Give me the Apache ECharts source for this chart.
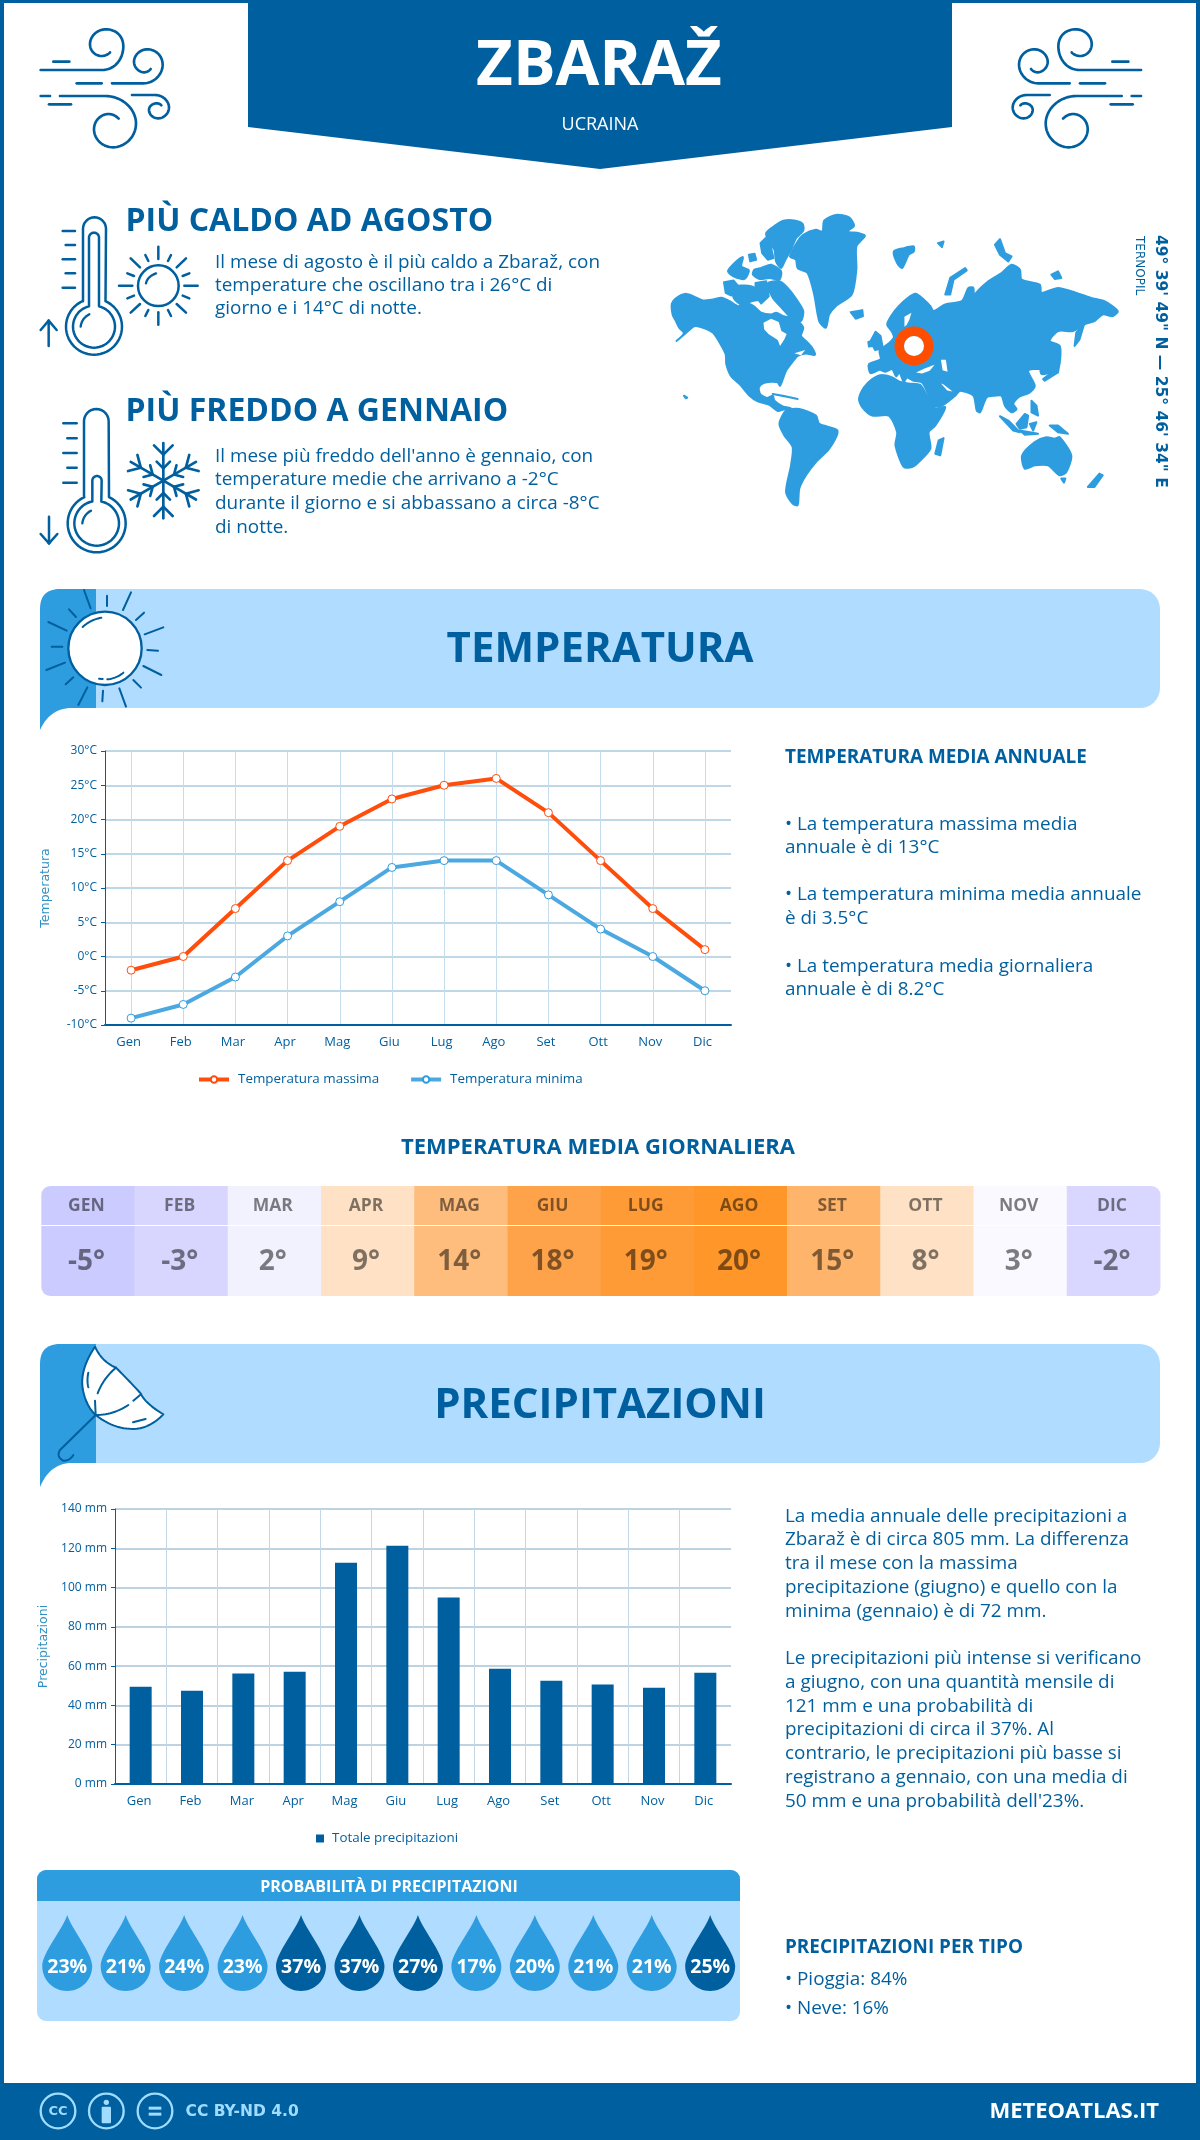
<!DOCTYPE html>
<html><head><meta charset="utf-8">
<style>html,body{margin:0;padding:0;background:#fff}#c{width:1200px;height:2140px}</style>
<script src="https://cdn.jsdelivr.net/npm/echarts@6/dist/echarts.min.js"></script>
</head><body><div id="c"></div>
<script>
const months = ['Gen','Feb','Mar','Apr','Mag','Giu','Lug','Ago','Set','Ott','Nov','Dic'];
const monthsUpper = ['GEN','FEB','MAR','APR','MAG','GIU','LUG','AGO','SET','OTT','NOV','DIC'];
const tempMax = [-2,0,7,14,19,23,25,26,21,14,7,1];
const tempMin = [-9,-7,-3,3,8,13,14,14,9,4,0,-5];
const tempDaily = [-5,-3,2,9,14,18,19,20,15,8,3,-2];
const dailyColors = ['#cccbff','#d8d6ff','#f2f2ff','#ffe2c5','#ffbd7d','#ffa34a','#ff9b36','#ff9629','#ffb46b','#ffe2c5','#f9f9ff','#d9d7ff'];
const precipitation = [49.5,47.5,56.2,57.2,112.7,121.3,94.9,58.7,52.6,50.6,49,56.7];
const rainChance = [23,21,24,23,37,37,27,17,20,21,21,25];

const hotText = ['Il mese di agosto è il più caldo a Zbaraž, con','temperature che oscillano tra i 26°C di','giorno e i 14°C di notte.'];
const coldText = ["Il mese più freddo dell'anno è gennaio, con",'temperature medie che arrivano a -2°C','durante il giorno e si abbassano a circa -8°C','di notte.'];
const annualText = [['• La temperatura massima media','annuale è di 13°C'],['• La temperatura minima media annuale','è di 3.5°C'],['• La temperatura media giornaliera','annuale è di 8.2°C']];
const precipText1 = ['La media annuale delle precipitazioni a','Zbaraž è di circa 805 mm. La differenza','tra il mese con la massima','precipitazione (giugno) e quello con la','minima (gennaio) è di 72 mm.'];
const precipText2 = ['Le precipitazioni più intense si verificano','a giugno, con una quantità mensile di','121 mm e una probabilità di','precipitazioni di circa il 37%. Al','contrario, le precipitazioni più basse si','registrano a gennaio, con una media di',"50 mm e una probabilità dell'23%."];

const DARK='#005f9e', MID='#2e9ddf', LIGHT='#b0dcff', FONT='"Open Sans"';
const BODY=18.9;

function txt(s,x,y,size,opt){opt=opt||{};
  return {type:'text',x:x,y:y,rotation:opt.rot||0,z:opt.z||5,style:{text:s,fill:opt.fill||DARK,
    font:(opt.weight||'normal')+' '+size+'px '+(opt.family||FONT),
    align:opt.align||'left',textAlign:opt.align||'left',verticalAlign:'middle',textVerticalAlign:'middle'}};
}
function lines(arr,x,ys,size){return arr.map((s,i)=>txt(s,x,ys[i],size));}
function samplePath(d){
  const t=d.match(/[MLHVQCZ]|-?[\d.]+/g);let i=0,cx=0,cy=0,pts=[],closed=false,cmd='';
  const n=()=>parseFloat(t[i++]);
  while(i<t.length){
    if(/[A-Z]/.test(t[i]))cmd=t[i++];
    if(cmd==='Z'){closed=true;continue;}
    if(cmd==='M'||cmd==='L'){cx=n();cy=n();pts.push([cx,cy]);}
    else if(cmd==='H'){cx=n();pts.push([cx,cy]);}
    else if(cmd==='V'){cy=n();pts.push([cx,cy]);}
    else if(cmd==='Q'){const a=n(),b=n(),x=n(),y=n();for(let k=1;k<=14;k++){const u=k/14,v=1-u;pts.push([v*v*cx+2*u*v*a+u*u*x,v*v*cy+2*u*v*b+u*u*y]);}cx=x;cy=y;}
    else if(cmd==='C'){const a=n(),b=n(),e=n(),f=n(),x=n(),y=n();for(let k=1;k<=18;k++){const u=k/18,v=1-u;pts.push([v*v*v*cx+3*u*v*v*a+3*u*u*v*e+u*u*u*x,v*v*v*cy+3*u*v*v*b+3*u*u*v*f+u*u*u*y]);}cx=x;cy=y;}
  }
  return {pts,closed};
}
function pth(d,o){o=o||{};const r=samplePath(d);
  return {type:r.closed?'polygon':'polyline',z:o.z||4,shape:{points:r.pts},
    style:{fill:o.fill||(r.closed?'#fff':null),stroke:o.stroke===undefined?DARK:o.stroke,lineWidth:o.w||7,lineCap:'round',lineJoin:'round'}};
}
function grp(x,y,sx,sy,children){return {type:'group',x:x,y:y,scaleX:sx,scaleY:sy,children:children};}
function tube(xl,xr,top,cx,cy,r){
  const tr=(xr-xl)/2,a=Math.asin(tr/r),pts=[];
  pts.push([xl,cy-r*Math.cos(a)]);
  for(let k=0;k<=16;k++){const t=Math.PI+Math.PI*k/16;pts.push([(xl+xr)/2+tr*Math.cos(t),top+tr+tr*Math.sin(t)]);}
  for(let k=0;k<=48;k++){const t=-Math.PI/2+a+(2*Math.PI-2*a)*k/48;pts.push([cx+r*Math.cos(t),cy+r*Math.sin(t)]);}
  return {type:'polygon',z:4,shape:{points:pts},style:{fill:null,stroke:DARK,lineWidth:7.5,lineJoin:'round'}};
}
function segs(list,w,z){return list.map(p=>({type:'line',z:z||4,shape:{x1:p[0],y1:p[1],x2:p[2],y2:p[3]},style:{stroke:DARK,lineWidth:w,lineCap:'round'}}));}

function windIcon(){return [
  pth('M62,180 H245 C290,180 310,140 310,110 C310,75 285,58 258,58 C230,58 210,80 210,102 C210,125 228,138 245,138 C258,138 268,130 270,127',{w:8}),
  pth('M276,220 H370 C405,220 428,190 428,165 C428,135 405,118 382,118 C358,118 342,138 342,155 C342,175 360,187 372,187 C382,187 390,180 392,177',{w:8}),
  pth('M120,258 H255 C310,258 348,300 348,340 C348,385 310,412 280,412 C245,412 222,385 222,358 C222,330 245,312 265,312 C280,312 290,320 296,326',{w:8}),
  pth('M336,255 H405 C430,255 447,275 447,292 C447,312 430,325 415,325 C398,325 387,312 387,300 C387,287 400,280 410,280 C418,280 422,284 424,286',{w:8})
].concat(segs([[100,155,148,155],[170,220,245,220],[62,258,90,258],[87,283,153,283]],8));}

function sunRays(list,w){return segs(list,w);}

const hotThermo=[tube(189,258,82,222,410,84),tube(207,237,128,222,410,63),pth('M182,410 Q185,385 208,373',{w:7})]
 .concat(segs([[128,123,165,123],[137,165,165,165],[128,208,165,208],[137,250,165,250],[128,293,165,293],[86,468,86,392],[62,420,86,392],[110,420,86,392]],7.5))
 .concat([{type:'circle',z:4,shape:{cx:415,cy:287,r:61},style:{fill:null,stroke:DARK,lineWidth:7.5}},pth('M378,280 Q382,260 408,250',{w:7})])
 .concat(sunRays([[415,170,415,207],[415,367,415,404],[297,287,337,287],[493,287,533,287],[332,205,360,232],[498,205,470,232],[332,368,360,342],[498,368,470,342],[376,195,385,213],[453,195,444,213],[376,378,385,360],[453,378,444,360],[322,250,342,258],[508,250,488,258],[322,325,342,317],[508,325,488,317]],7.5));

const flakeArms=[0,1,2,3,4,5].map(k=>({type:'group',x:430,y:872,rotation:k*Math.PI/3,children:segs([[0,0,0,-113],[-28,-106,0,-78],[28,-106,0,-78],[-20,-57,0,-37],[20,-57,0,-37]],8)}));
const coldThermo=[tube(192,266,657,230,1000,87),tube(217,245,858,230,1000,67),pth('M187,1000 Q190,975 213,962',{w:7})]
 .concat(segs([[130,700,170,700],[142,745,170,745],[130,789,170,789],[142,833,170,833],[130,878,170,878],[87,980,87,1060],[62,1032,87,1060],[112,1032,87,1060]],7.5))
 .concat(flakeArms);

function banner(top,bottom,tail,title,cy){return [
  {type:'rect',z:1,shape:{x:70,y:top,width:1090,height:bottom-top,r:20},style:{fill:LIGHT}},
  pth('M40,'+tail+' L40,'+(top+20)+' Q40,'+top+' 60,'+top+' L96,'+top+' L96,'+bottom+' L72,'+bottom+' Q50,'+bottom+' 40,'+tail+' Z',{fill:MID,stroke:null,z:2}),
  txt(title,600,cy,42,{weight:'bold',align:'center'})
];}
const sunBanner=[{type:'circle',z:4,shape:{cx:225,cy:205,r:110},style:{fill:'#fff',stroke:DARK,lineWidth:7}},
  pth('M158,141 Q180,120 214,113',{w:6}),pth('M232,298 Q260,295 280,278',{w:6}),pth('M207,296 L218,297',{w:6})]
 .concat(segs([[162,30,182,85],[231,47,231,78],[303,37,279,90],[342,98,318,120],[400,142,344,163],[352,210,384,212],[340,258,394,285],[310,300,333,323],[268,325,288,380],[219,332,217,364],[172,322,145,375],[130,292,107,313],[105,248,49,270],[97,200,65,200],[110,152,55,126],[138,111,117,88]],6));
const umbrella=[pth('M195,35 Q145,110 160,170 Q170,215 197,240 Q260,290 330,280 Q370,270 400,238 Q345,205 332,175 Q290,130 258,98 Q215,80 195,35 Z',{w:6}),
  pth('M197,240 L90,345 Q78,365 100,377 Q118,378 130,360',{w:6}),pth('M197,240 Q250,240 295,210',{w:6}),pth('M258,98 Q220,130 203,175',{w:6}),
  pth('M175,113 Q170,135 175,157',{w:6})].concat(segs([[310,197,333,178],[195,197,197,240],[309,262,347,252]],6));

// decorative world map outlines
const land=[
 [[36,312],[48,296],[75,283],[100,290],[130,303],[160,300],[185,295],[210,305],[235,320],[265,313],[285,322],[305,340],[335,345],[350,340],[372,350],[395,355],[415,365],[432,385],[425,410],[440,425],[458,445],[467,467],[440,463],[415,470],[398,490],[380,515],[362,560],[355,550],[335,548],[312,552],[298,565],[302,585],[322,597],[340,590],[345,605],[370,622],[395,628],[372,632],[355,636],[330,618],[295,607],[270,590],[240,555],[215,532],[200,495],[198,465],[180,430],[160,400],[130,385],[105,380],[85,395],[50,425],[72,402],[58,385],[48,365],[38,345]],
 [[320,100],[350,75],[375,62],[405,62],[430,72],[432,92],[410,115],[395,150],[378,180],[365,205],[350,185],[345,150],[330,130]],
 [[303,130],[318,115],[335,145],[342,175],[325,180],[308,160]],
 [[365,215],[360,240],[330,235],[300,238],[280,225],[285,210],[305,205],[335,195]],
 [[325,252],[360,245],[385,265],[412,300],[432,335],[425,365],[405,362],[385,345],[362,320],[340,295]],
 [[222,262],[255,258],[285,265],[305,298],[278,305],[245,315],[222,295]],
 [[193,248],[222,243],[235,258],[215,288],[198,280]],
 [[205,215],[225,190],[250,172],[245,200],[268,212],[255,238],[225,232]],
 [[288,250],[320,245],[328,290],[305,312],[288,290]],
 [[268,165],[285,162],[290,180],[272,185]],
 [[410,180],[392,170],[415,125],[432,105],[470,90],[490,95],[495,62],[530,45],[570,52],[585,78],[565,95],[600,100],[618,108],[592,140],[592,210],[578,285],[530,320],[510,345],[500,385],[480,365],[465,285],[445,220],[415,205]],
 [[575,338],[610,332],[612,350],[590,358]],
 [[705,155],[735,145],[765,140],[765,155],[750,165],[730,205],[715,190]],
 [[838,130],[855,125],[850,142]],
 [[860,285],[875,235],[920,205],[925,212],[885,240],[875,285]],
 [[1010,135],[1025,118],[1040,160],[1060,170],[1050,185],[1025,165]],
 [[1180,225],[1200,215],[1210,235],[1190,238]],
 [[685,375],[700,345],[720,320],[745,297],[770,283],[795,300],[815,320],[825,335],[860,315],[910,305],[930,265],[945,265],[945,330],[950,285],[990,245],[1030,220],[1060,195],[1085,210],[1090,240],[1145,255],[1150,280],[1200,265],[1255,280],[1300,295],[1340,305],[1380,335],[1365,350],[1335,345],[1310,365],[1280,375],[1245,395],[1200,395],[1175,425],[1205,440],[1205,490],[1190,515],[1150,525],[1145,510],[1110,515],[1130,560],[1115,580],[1080,595],[1065,615],[1075,630],[1060,640],[1040,620],[1030,590],[1010,590],[985,595],[965,640],[955,635],[945,590],[905,575],[890,590],[850,620],[825,620],[792,552],[765,545],[745,535],[735,548],[722,520],[712,532],[700,510],[680,518],[662,512],[635,522],[630,495],[665,480],[662,455],[690,432],[705,415],[700,398]],
 [[600,600],[615,565],[640,540],[665,528],[700,535],[722,548],[750,553],[785,558],[815,610],[830,628],[860,625],[830,680],[810,700],[815,750],[780,790],[760,805],[735,805],[710,740],[715,700],[690,650],[640,650],[610,625]],
 [[840,725],[855,718],[845,770],[830,765]],
 [[360,675],[380,635],[420,630],[470,650],[480,675],[535,695],[510,750],[470,790],[440,830],[420,870],[415,920],[400,915],[380,880],[395,800],[400,745],[375,710]],
 [[1092,770],[1130,730],[1165,715],[1190,720],[1205,715],[1240,770],[1225,820],[1205,830],[1170,800],[1130,800],[1100,810]],
 [[1290,865],[1325,825],[1335,830],[1310,865]],[[1210,840],[1222,840],[1218,852]],
 [[1025,652],[1050,665],[1085,700],[1065,695]],[[1085,695],[1140,705],[1100,708]],[[1075,675],[1100,645],[1110,650],[1105,685],[1085,690]],
 [[1175,680],[1200,680],[1230,705],[1200,700]],[[1120,605],[1135,620],[1140,650],[1120,640]],[[1115,675],[1135,670],[1125,695]],
 [[1155,540],[1195,510],[1195,485],[1205,490],[1200,520],[1160,545]],[[1250,440],[1255,400],[1280,370],[1265,420]],
 [[340,585],[390,595],[415,600],[370,590]],
 [[635,425],[650,397],[665,410],[672,448],[648,452]],[[628,428],[640,425],[642,440],[630,442]],
 [[72,590],[82,596],[78,598]]
];
const waters=[
 [[312,370],[335,358],[358,368],[366,395],[382,404],[375,420],[362,440],[355,422],[328,405],[314,390]],
 [[737,352],[758,340],[752,360],[744,376],[737,382]],
 [[772,520],[800,507],[828,497],[813,515],[790,523]],
 [[847,482],[862,482],[867,518],[852,513]],
 [[847,553],[855,556],[882,577],[866,574]],
 [[405,462],[438,452],[425,468]]
];
const mapEls=land.map(p=>({type:'polygon',z:3,shape:{points:p,smooth:p.length>6?0.25:0},style:{fill:MID,stroke:MID,lineWidth:6,lineJoin:'round'}}))
 .concat(waters.map(p=>({type:'polygon',z:3,shape:{points:p},style:{fill:'#fff'}})));

const ccIcons=[
 {type:'circle',shape:{cx:114,cy:123,r:52},style:{fill:null,stroke:'#a0dcff',lineWidth:7}},
 {type:'circle',shape:{cx:259,cy:123,r:52},style:{fill:null,stroke:'#a0dcff',lineWidth:7}},
 {type:'circle',shape:{cx:405,cy:123,r:52},style:{fill:null,stroke:'#a0dcff',lineWidth:7}},
 {type:'circle',shape:{cx:259,cy:97,r:8},style:{fill:'#a0dcff'}},
 {type:'rect',shape:{x:245,y:110,width:28,height:50,r:3},style:{fill:'#a0dcff'}},
 {type:'rect',shape:{x:386,y:110,width:38,height:9},style:{fill:'#a0dcff'}},
 {type:'rect',shape:{x:386,y:128,width:38,height:9},style:{fill:'#a0dcff'}}
].map(e=>Object.assign(e,{z:6}));

const graphics=[
 {type:'rect',z:1,shape:{x:0,y:0,width:4,height:2140},style:{fill:DARK}},
 {type:'rect',z:1,shape:{x:1196,y:0,width:4,height:2140},style:{fill:DARK}},
 {type:'rect',z:1,shape:{x:0,y:0,width:1200,height:3},style:{fill:DARK}},
 {type:'polygon',z:2,shape:{points:[[248,0],[952,0],[952,127],[600,169],[248,127]]},style:{fill:DARK}},
 txt('ZBARAŽ',599,67,63.5,{weight:'bold',align:'center',fill:'#fff'}),
 txt('UCRAINA',600,125,18,{align:'center',fill:'#fff'}),
 grp(20,10,1/3,1/3,windIcon()),
 grp(1161.7,10,-1/3,1/3,windIcon()),
 grp(20,190,1/3,1/3,hotThermo),
 grp(20,190,1/3,1/3,coldThermo),
 txt('PIÙ CALDO AD AGOSTO',125.5,222,32,{weight:'bold'}),
 txt('PIÙ FREDDO A GENNAIO',125.5,412,32,{weight:'bold'}),
 grp(660,200,1/3.015,1/3.015,mapEls),
 {type:'ring',z:5,shape:{cx:914,cy:346,r:19.6,r0:10},style:{fill:'#ff4e00'}},
 {type:'circle',z:5,shape:{cx:914,cy:346,r:10},style:{fill:'#fff'}},
 txt('49° 39\' 49" N — 25° 46\' 34" E',1160,235,15.5,{weight:'bold',rot:-Math.PI/2,family:'"DejaVu Sans"'}),
 txt('TERNOPIL',1139,236,12,{rot:-Math.PI/2,family:'"DejaVu Sans"'})
]
.concat(lines(hotText,215,[263,286,309],BODY),lines(coldText,215,[457,480,504,528],BODY))
.concat(banner(589,708,730,'TEMPERATURA',650))
.concat([grp(30,580,1/3,1/3,sunBanner)])
.concat([txt('TEMPERATURA MEDIA ANNUALE',785,758,BODY,{weight:'bold'})])
.concat(lines(annualText[0],785,[825,848],BODY),lines(annualText[1],785,[895,919],BODY),lines(annualText[2],785,[967,990],BODY))
.concat([txt('TEMPERATURA MEDIA GIORNALIERA',598,1148,22,{weight:'bold',align:'center'})])
.concat(banner(1344,1463,1487,'PRECIPITAZIONI',1406))
.concat([grp(30,1335,1/3,1/3,umbrella)])
.concat(lines(precipText1,785,[1517,1540,1564,1588,1612],BODY),lines(precipText2,785,[1659,1683,1707,1730,1754,1778,1802],BODY))
.concat([
 {type:'rect',z:1,shape:{x:37,y:1870,width:703,height:151,r:9},style:{fill:LIGHT}},
 {type:'rect',z:1,shape:{x:37,y:1870,width:703,height:31,r:[9,9,0,0]},style:{fill:MID}},
 txt('PROBABILITÀ DI PRECIPITAZIONI',389,1887,16,{weight:'bold',align:'center',fill:'#fff'}),
 txt('PRECIPITAZIONI PER TIPO',785,1948,BODY,{weight:'bold'}),
 txt('• Pioggia: 84%',785,1980,BODY),
 txt('• Neve: 16%',785,2009,BODY),
 {type:'rect',z:1,shape:{x:0,y:2083,width:1200,height:57},style:{fill:DARK}},
 grp(20,2070,1/3,1/3,ccIcons),
 txt('CC',58,2112,13,{weight:'bold',align:'center',fill:'#a0dcff',family:'"DejaVu Sans"'}),
 txt('CC BY-ND 4.0',185.5,2112,15.5,{weight:'bold',fill:'#a0dcff',family:'"DejaVu Sans"'}),
 txt('METEOATLAS.IT',1159,2112,22,{weight:'bold',align:'right',fill:'#fff'})
]);

function rowRenderer(radius,labelOf,size,bold){
  return function(params,api){
    const i=api.value(0),p=api.coord([i,0]),s=api.size([1,0]),w=s[0];
    const h=params.coordSys.height,top=params.coordSys.y;
    const r=i===0?[radius[0],0,0,radius[1]]:(i===11?[0,radius[0],radius[1],0]:0);
    return {type:'group',children:[
      {type:'rect',shape:{x:p[0]-w/2,y:top,width:w+0.5,height:h,r:r},style:{fill:dailyColors[i]}},
      {type:'text',style:{x:p[0]-1.5,y:top+h/2+1,text:labelOf(i),fill:'rgba(0,0,0,0.5)',font:(bold?'bold ':'')+size+'px '+FONT,align:'center',verticalAlign:'middle',textAlign:'center',textVerticalAlign:'middle'}}
    ]};
  };
}
const axisTxt={color:DARK,fontFamily:FONT,fontSize:12};
const nameTxt={color:'#2e8fc4',fontFamily:'"DejaVu Sans"',fontSize:12.5};

const option={
 animation:false,
 backgroundColor:'#fff',
 graphic:{elements:graphics},
 grid:[
  {left:105,top:751,width:626,height:274},
  {left:115,top:1509,width:616,height:275},
  {left:41.3,top:1186,width:1118.7,height:39},
  {left:41.3,top:1226,width:1118.7,height:70},
  {left:38,top:1915,width:701.4,height:76}
 ],
 legend:[
  {left:197,top:1073,padding:0,itemWidth:30,itemHeight:8,itemGap:30,lineStyle:{width:4},data:['Temperatura massima','Temperatura minima'],textStyle:{color:DARK,fontFamily:FONT,fontSize:13.4,padding:[0,0,0,4]}},
  {left:316,top:1832,padding:0,itemWidth:8,itemHeight:8,data:['Totale precipitazioni'],textStyle:{color:DARK,fontFamily:FONT,fontSize:13.4,padding:[0,0,0,3]},icon:'rect'}
 ],
 xAxis:[
  {type:'category',gridIndex:0,data:months,axisLine:{onZero:false,lineStyle:{color:DARK,width:2}},axisTick:{show:false},axisLabel:Object.assign({},axisTxt,{fontSize:13,margin:11,padding:[0,5,0,0]}),
   splitLine:{show:true,alignWithLabel:true,lineStyle:{color:'#c5dcec',width:1}}},
  {type:'category',gridIndex:1,data:months,axisLine:{onZero:false,lineStyle:{color:DARK,width:2}},axisTick:{show:false},axisLabel:Object.assign({},axisTxt,{fontSize:13,margin:11,padding:[0,3,0,0]}),
   splitLine:{show:true,showMaxLine:false,showMinLine:false,lineStyle:{color:'#c5d6e4',width:1}}},
  {type:'category',gridIndex:2,data:monthsUpper,show:false},
  {type:'category',gridIndex:3,data:monthsUpper,show:false},
  {type:'category',gridIndex:4,data:monthsUpper,axisLine:{show:false},axisTick:{show:false},axisLabel:{color:DARK,fontFamily:FONT,fontWeight:'bold',fontSize:15,margin:7}}
 ],
 yAxis:[
  {type:'value',gridIndex:0,min:-10,max:30,interval:5,name:'Temperatura',nameLocation:'middle',nameGap:53,nameRotate:90,nameTextStyle:nameTxt,
   axisLine:{show:true,lineStyle:{color:DARK,width:1}},axisTick:{show:true,length:4,lineStyle:{color:DARK}},
   axisLabel:Object.assign({},axisTxt,{formatter:'{value}°C',margin:8}),splitLine:{lineStyle:{color:'#a9cbe0',width:1.5}}},
  {type:'value',gridIndex:1,min:0,max:140,interval:20,name:'Precipitazioni',nameLocation:'middle',nameGap:61,nameRotate:90,nameTextStyle:nameTxt,
   axisLine:{show:true,lineStyle:{color:DARK,width:1}},axisTick:{show:true,length:4,lineStyle:{color:DARK}},
   axisLabel:Object.assign({},axisTxt,{formatter:'{value} mm',margin:8}),splitLine:{lineStyle:{color:'#a9c4d8',width:1.5}}},
  {type:'category',gridIndex:2,data:['m'],show:false},
  {type:'category',gridIndex:3,data:['v'],show:false},
  {type:'category',gridIndex:4,data:['p'],show:false}
 ],
 series:[
  {name:'Temperatura massima',type:'line',xAxisIndex:0,yAxisIndex:0,data:tempMax,symbol:'circle',symbolSize:8,showAllSymbol:true,
   lineStyle:{color:'#ff4e0c',width:4},itemStyle:{color:'#fff',borderColor:'#ff4e0c',borderWidth:1}},
  {name:'Temperatura minima',type:'line',xAxisIndex:0,yAxisIndex:0,data:tempMin,symbol:'circle',symbolSize:8,showAllSymbol:true,
   lineStyle:{color:'#4ba8e1',width:4},itemStyle:{color:'#fff',borderColor:'#2e9ddf',borderWidth:1}},
  {name:'Totale precipitazioni',type:'bar',xAxisIndex:1,yAxisIndex:1,data:precipitation,barWidth:22,itemStyle:{color:DARK}},
  {type:'custom',xAxisIndex:2,yAxisIndex:2,data:monthsUpper.map((m,i)=>[i,0]),renderItem:rowRenderer([9,0],i=>monthsUpper[i],17.5,true),clip:false},
  {type:'custom',xAxisIndex:3,yAxisIndex:3,data:tempDaily.map((v,i)=>[i,0]),renderItem:rowRenderer([0,9],i=>tempDaily[i]+'°',28,true),clip:false},
  {type:'scatter',xAxisIndex:4,yAxisIndex:4,data:rainChance.map((v,i)=>[i,0,v]),
   symbol:'path://M25,0 C20,15 0,38 0,51 C0,65 11,76 25,76 C39,76 50,65 50,51 C50,38 30,15 25,0 Z',symbolSize:[50,76],symbolKeepAspect:false,
   itemStyle:{opacity:1,color:p=>p.value[2]>=25?DARK:MID},
   label:{show:true,position:'inside',offset:[0,14],formatter:p=>p.value[2]+'%',color:'#fff',fontFamily:FONT,fontWeight:'bold',fontSize:19.5}}
 ]
};
const chart=echarts.init(document.getElementById('c'),null,{renderer:'canvas',width:1200,height:2140});
chart.setOption(option);
</script></body></html>
